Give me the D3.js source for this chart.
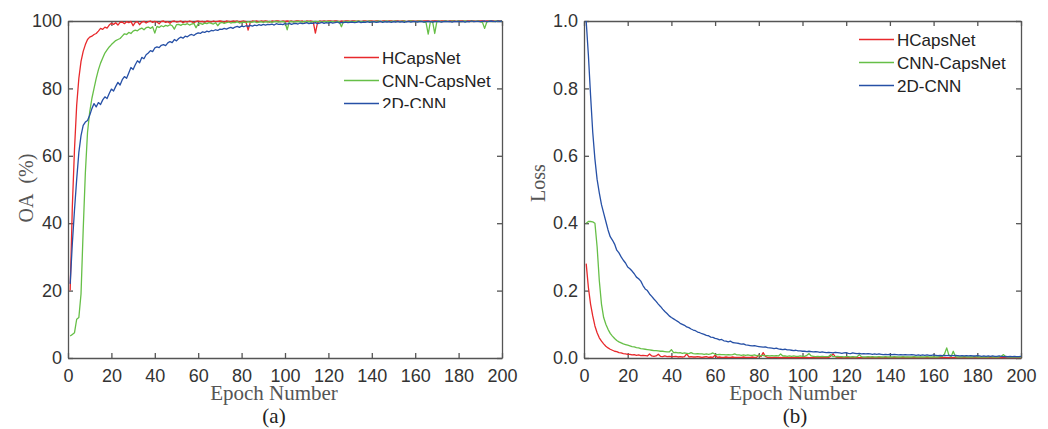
<!DOCTYPE html>
<html>
<head>
<meta charset="utf-8">
<script src="https://cdn.jsdelivr.net/npm/d3@7"></script>
<style>
body { margin: 0; background: #fff; }
svg text { font-family: "Liberation Sans", Arial, sans-serif; }
.tick text { font-size: 18px; fill: #333; }
.axis path, .axis line { stroke: #555; stroke-width: 1.3; }
.serif { font-family: "Liberation Serif", "Times New Roman", serif !important; }
</style>
</head>
<body>
<svg id="chart" width="1048" height="429"></svg>
<script>
// epochs 1..200
var epochs = d3.range(1, 201);
var xTicks = [0, 20, 40, 60, 80, 100, 120, 140, 160, 180, 200];
var oaTicks = [0, 20, 40, 60, 80, 100];
var lossTicks = [0, 0.2, 0.4, 0.6, 0.8, 1.0];
var seriesNames = ["HCapsNet", "CNN-CapsNet", "2D-CNN"];
var seriesColors = ["#e8292c", "#66bf47", "#2650a6"];

// (a) overall accuracy, %
var oaHCaps = [
  20, 45, 62, 75, 83, 88, 91, 93, 94.5, 95.2,
  95.5, 96, 96.3, 97, 97.8, 97.5, 98.2, 97.9, 98.8, 99.3,
  99, 99.5, 98.8, 99.6, 99.7, 99.2, 99.8, 99.5, 99.9, 98.6,
  99.6, 99.8, 98.9, 99.7, 99.9, 99.4, 99.8, 100, 99.6, 99.9,
  99.7, 99.2, 99.9, 100, 99.6, 99.8, 99.3, 99.9, 100, 99.7,
  99.8, 100, 99.5, 99.9, 99.7, 100, 99.8, 99.4, 99.9, 100,
  99.8, 99.9, 99.6, 100, 99.9, 99.7, 100, 99.8, 99.9, 100,
  99.9, 99.6, 100, 99.9, 99.8, 100, 99.9, 100, 99.7, 99.9,
  100, 99.8, 97.3, 99.6, 100, 99.9, 100, 99.8, 100, 99.9,
  100, 99.9, 99.7, 100, 99.9, 100, 100, 99.8, 100, 99.9,
  100, 99.9, 100, 99.8, 100, 100, 99.9, 100, 99.7, 100,
  99.9, 100, 99.8, 96.4, 99.5, 100, 99.9, 100, 99.9, 100,
  100, 99.9, 100, 100, 99.8, 100, 99.9, 100, 100, 99.9,
  100, 100, 99.9, 100, 99.8, 100, 100, 99.9, 100, 100,
  99.9, 100, 100, 99.8, 100, 100, 99.9, 100, 100, 99.9,
  100, 100, 99.9, 100, 100, 99.8, 100, 100, 100, 99.9,
  100, 100, 99.9, 100, 100, 100, 99.9, 100, 100, 100,
  99.9, 100, 100, 100, 99.9, 100, 100, 100, 99.9, 100,
  100, 100, 99.9, 100, 100, 100, 100, 99.9, 100, 100,
  100, 99.9, 100, 100, 100, 100, 99.9, 100, 100, 100
];
var oaCnnCaps = [
  6.5, 7, 7.5, 11.5, 12, 19, 38, 55, 67, 73,
  77, 80, 83, 85.5, 87.5, 89, 90.5, 91.4, 92.3, 93,
  93.6, 94.2, 94.5, 94.8, 95.5, 96.2, 96, 96.6, 96.3, 97,
  97.3, 97.1, 97.6, 97.9, 97.4, 98, 98.2, 97.8, 98.3, 96.4,
  98.4, 98.1, 98.6, 98.3, 98.7, 98.5, 98.9, 98.6, 97.6, 98.9,
  99, 98.7, 99.1, 98.9, 99.2, 98.8, 99.1, 99.3, 98, 99.2,
  99.3, 99, 99.4, 99.2, 99.5, 99.3, 99.1, 99.5, 98.6, 99.4,
  99.6, 99.3, 99.5, 99.7, 99.4, 99.6, 99.5, 99.8, 99.4, 99.6,
  99.7, 99.5, 99.8, 99.6, 99.7, 99.9, 99.5, 99.7, 99.8, 99.6,
  99.8, 99.7, 99.9, 99.6, 99.8, 99.9, 99.7, 99.8, 99.9, 99.7,
  97.4, 99.8, 99.9, 99.7, 99.8, 99.9, 99.8, 99.7, 99.9, 99.8,
  99.9, 99.7, 99.8, 99.9, 99.8, 99.9, 99.7, 99.9, 99.8, 99.9,
  99.8, 99.9, 99.7, 99.9, 99.8, 98.3, 99.9, 99.8, 99.9, 99.8,
  99.9, 99.8, 99.9, 100, 99.8, 99.9, 99.8, 99.9, 100, 99.8,
  99.9, 99.8, 100, 99.9, 99.8, 99.9, 100, 99.8, 99.9, 99.9,
  100, 99.8, 99.9, 99.9, 100, 99.8, 99.9, 100, 99.9, 99.8,
  99.9, 100, 99.9, 99.8, 99.5, 96.1, 99.8, 99.9, 96.3, 99.9,
  100, 99.8, 99.9, 100, 99.9, 99.8, 100, 99.9, 99.9, 100,
  99.8, 99.9, 100, 99.9, 99.8, 100, 99.9, 99.9, 100, 99.8,
  99.6, 97.8, 99.7, 100, 99.9, 99.8, 100, 99.9, 99.9, 100
];
var oa2dCnn = [
  22, 34, 44, 53, 61, 66, 69, 70, 70.5, 72,
  74, 75.5, 74.5, 75.8, 75.2, 76.6, 77.5, 77, 78.5, 79.8,
  79.2, 80.6, 81.8, 81, 82.6, 83.5, 83, 84.6, 86.2, 85.6,
  87, 88.2, 87.6, 89.2, 88.8, 90, 90.5, 91.2, 90.9, 92,
  92.3, 92.1, 92.8, 93, 92.7, 93.5, 93.9, 93.6, 94.5, 94.1,
  94.8, 95.2, 94.9, 95.5, 95.3, 95.8, 96, 95.7, 96.2, 96.5,
  96.3, 96.8, 96.6, 97, 96.8, 97.2, 97.1, 97.4, 97.2, 97.6,
  97.5, 97.8, 97.6, 97.9, 98.1, 97.8, 98.2, 98.4, 98.1, 98.5,
  98.3, 98.6, 98.4, 98.7, 98.5, 98.8, 98.6, 98.9, 98.7, 99,
  98.8, 99, 98.9, 99.1, 98.8, 99.2, 99, 99.1, 98.9, 99.2,
  99.1, 99.3, 99, 99.2, 99.3, 99.1, 99.4, 99.2, 99.3, 99.5,
  99.2, 99.4, 99.3, 99.5, 99.2, 99.4, 99.6, 99.3, 99.5, 99.4,
  99.6, 99.4, 99.5, 99.7, 99.4, 99.6, 99.5, 99.7, 99.5, 99.6,
  99.7, 99.5, 99.6, 99.8, 99.5, 99.7, 99.6, 99.8, 99.6, 99.7,
  99.8, 99.6, 99.7, 99.9, 99.6, 99.8, 99.7, 99.8, 99.6, 99.8,
  99.7, 99.9, 99.7, 99.8, 99.6, 99.8, 99.9, 99.7, 99.8, 99.9,
  99.7, 99.8, 99.9, 99.7, 99.8, 99.9, 99.8, 99.7, 99.9, 99.8,
  99.9, 99.7, 99.8, 99.9, 99.8, 99.9, 99.7, 99.9, 99.8, 99.9,
  99.8, 99.9, 99.7, 99.9, 99.8, 100, 99.8, 99.9, 99.9, 99.8,
  99.9, 100, 99.8, 99.9, 100, 99.9, 99.8, 100, 99.9, 100
];

// (b) training loss
var lossHCaps = [
  0.28, 0.21, 0.16, 0.125, 0.095, 0.075, 0.06, 0.05, 0.042, 0.035,
  0.03, 0.026, 0.023, 0.02, 0.019, 0.016, 0.015, 0.013, 0.012, 0.011,
  0.011, 0.009, 0.01, 0.008, 0.009, 0.007, 0.008, 0.007, 0.006, 0.012,
  0.006, 0.005, 0.006, 0.011, 0.005, 0.004, 0.006, 0.004, 0.005, 0.004,
  0.004, 0.005, 0.003, 0.004, 0.003, 0.004, 0.012, 0.003, 0.004, 0.003,
  0.003, 0.004, 0.003, 0.002, 0.003, 0.004, 0.002, 0.003, 0.002, 0.008,
  0.002, 0.003, 0.002, 0.002, 0.003, 0.002, 0.002, 0.003, 0.002, 0.002,
  0.002, 0.002, 0.003, 0.002, 0.002, 0.002, 0.003, 0.002, 0.002, 0.009,
  0.004, 0.016, 0.005, 0.002, 0.002, 0.001, 0.002, 0.002, 0.001, 0.002,
  0.001, 0.002, 0.001, 0.001, 0.002, 0.001, 0.001, 0.002, 0.001, 0.001,
  0.001, 0.002, 0.001, 0.001, 0.002, 0.001, 0.001, 0.001, 0.002, 0.001,
  0.001, 0.002, 0.006, 0.012, 0.004, 0.001, 0.001, 0.002, 0.001, 0.001,
  0.001, 0.001, 0.002, 0.001, 0.001, 0.001, 0.002, 0.001, 0.001, 0.001,
  0.002, 0.001, 0.001, 0.001, 0.001, 0.002, 0.001, 0.001, 0.001, 0.001,
  0.001, 0.001, 0.002, 0.001, 0.001, 0.001, 0.001, 0.002, 0.001, 0.001,
  0.001, 0.001, 0.001, 0.002, 0.001, 0.001, 0.001, 0.001, 0.001, 0.002,
  0.001, 0.001, 0.001, 0.001, 0.002, 0.001, 0.001, 0.001, 0.001, 0.001,
  0.001, 0.002, 0.001, 0.001, 0.001, 0.001, 0.001, 0.002, 0.001, 0.001,
  0.001, 0.001, 0.001, 0.001, 0.002, 0.001, 0.001, 0.001, 0.001, 0.001,
  0.001, 0.001, 0.002, 0.001, 0.001, 0.001, 0.001, 0.001, 0.002, 0.001
];
var lossCnnCaps = [
  0.40, 0.405, 0.405, 0.404, 0.40, 0.33, 0.23, 0.16, 0.12, 0.1,
  0.085, 0.073, 0.065, 0.058, 0.052, 0.048, 0.045, 0.042, 0.04, 0.038,
  0.036, 0.034, 0.033, 0.031, 0.03, 0.028, 0.027, 0.026, 0.025, 0.024,
  0.023, 0.022, 0.022, 0.021, 0.02, 0.02, 0.019, 0.018, 0.018, 0.025,
  0.016, 0.017, 0.015, 0.016, 0.014, 0.015, 0.014, 0.013, 0.016, 0.013,
  0.012, 0.013, 0.012, 0.012, 0.011, 0.012, 0.011, 0.012, 0.015, 0.011,
  0.01, 0.011, 0.01, 0.01, 0.009, 0.01, 0.009, 0.01, 0.012, 0.009,
  0.009, 0.008, 0.009, 0.008, 0.009, 0.008, 0.008, 0.009, 0.007, 0.008,
  0.007, 0.008, 0.007, 0.007, 0.006, 0.007, 0.006, 0.007, 0.006, 0.012,
  0.006, 0.006, 0.005, 0.006, 0.005, 0.006, 0.005, 0.005, 0.006, 0.005,
  0.005, 0.008, 0.013, 0.006, 0.005, 0.004, 0.005, 0.004, 0.005, 0.004,
  0.004, 0.005, 0.01, 0.004, 0.004, 0.005, 0.004, 0.004, 0.003, 0.004,
  0.004, 0.003, 0.004, 0.003, 0.004, 0.01, 0.004, 0.003, 0.003, 0.004,
  0.003, 0.004, 0.003, 0.003, 0.004, 0.003, 0.003, 0.004, 0.003, 0.003,
  0.003, 0.004, 0.003, 0.003, 0.003, 0.004, 0.003, 0.003, 0.003, 0.003,
  0.004, 0.003, 0.003, 0.003, 0.003, 0.003, 0.004, 0.003, 0.003, 0.003,
  0.003, 0.003, 0.004, 0.005, 0.012, 0.03, 0.008, 0.004, 0.02, 0.004,
  0.003, 0.003, 0.003, 0.004, 0.003, 0.003, 0.003, 0.003, 0.004, 0.003,
  0.003, 0.003, 0.003, 0.003, 0.003, 0.004, 0.003, 0.003, 0.003, 0.003,
  0.005, 0.01, 0.004, 0.003, 0.003, 0.003, 0.003, 0.003, 0.003, 0.003
];
var loss2dCnn = [
  1.0, 0.9, 0.78, 0.67, 0.59, 0.53, 0.49, 0.455, 0.43, 0.405,
  0.38, 0.36, 0.35, 0.338, 0.32, 0.312, 0.3, 0.29, 0.282, 0.27,
  0.265, 0.258, 0.25, 0.24, 0.235, 0.228, 0.215, 0.205, 0.2, 0.19,
  0.183, 0.175, 0.168, 0.16, 0.153, 0.145, 0.138, 0.132, 0.125, 0.12,
  0.116, 0.112, 0.108, 0.103, 0.1, 0.097, 0.092, 0.09, 0.086, 0.083,
  0.081, 0.077, 0.075, 0.072, 0.07, 0.067, 0.066, 0.062, 0.061, 0.058,
  0.057, 0.054, 0.055, 0.051, 0.05, 0.048, 0.05, 0.046, 0.045, 0.044,
  0.043, 0.041, 0.042, 0.039, 0.038, 0.037, 0.036, 0.037, 0.035, 0.034,
  0.033, 0.032, 0.033, 0.031, 0.03, 0.029, 0.028, 0.029, 0.027, 0.026,
  0.025, 0.026, 0.024, 0.024, 0.023, 0.022, 0.023, 0.021, 0.021, 0.02,
  0.02, 0.019, 0.02, 0.019, 0.018, 0.019, 0.018, 0.017, 0.018, 0.017,
  0.016, 0.017, 0.016, 0.015, 0.017, 0.016, 0.015, 0.014, 0.015, 0.016,
  0.014, 0.013, 0.015, 0.014, 0.013, 0.014, 0.012, 0.013, 0.012, 0.013,
  0.012, 0.011, 0.012, 0.011, 0.012, 0.011, 0.01, 0.011, 0.01, 0.011,
  0.01, 0.011, 0.01, 0.009, 0.01, 0.009, 0.01, 0.009, 0.009, 0.01,
  0.009, 0.008, 0.009, 0.008, 0.009, 0.008, 0.009, 0.008, 0.008, 0.009,
  0.008, 0.007, 0.008, 0.007, 0.008, 0.007, 0.008, 0.007, 0.007, 0.008,
  0.007, 0.006, 0.007, 0.006, 0.007, 0.006, 0.007, 0.006, 0.006, 0.007,
  0.006, 0.005, 0.006, 0.005, 0.006, 0.005, 0.006, 0.005, 0.005, 0.006,
  0.005, 0.004, 0.005, 0.004, 0.005, 0.004, 0.005, 0.004, 0.004, 0.005
];

var svg = d3.select("#chart");

function drawPanel(p) {
    var x = d3.scaleLinear().domain([0, 200]).range([p.left, p.right]);
    var y = d3.scaleLinear().domain(p.yDomain).range([p.bottom, p.top]);

    svg.append("clipPath").attr("id", p.id + "_clip")
        .append("rect")
        .attr("x", p.left).attr("y", p.top - 1)
        .attr("width", p.right - p.left).attr("height", p.bottom - p.top + 2);

    // frame with inward ticks on all four sides
    svg.append("g").attr("class", "axis")
        .attr("transform", "translate(0," + p.bottom + ")")
        .call(d3.axisBottom(x).tickValues(xTicks).tickSizeInner(-5).tickSizeOuter(0).tickPadding(11));
    svg.append("g").attr("class", "axis")
        .attr("transform", "translate(0," + p.top + ")")
        .call(d3.axisTop(x).tickValues(xTicks).tickSizeInner(-5).tickSizeOuter(0).tickFormat(""));
    svg.append("g").attr("class", "axis")
        .attr("transform", "translate(" + p.left + ",0)")
        .call(d3.axisLeft(y).tickValues(p.yTicks).tickSizeInner(-5).tickSizeOuter(0).tickPadding(6).tickFormat(p.fmt));
    svg.append("g").attr("class", "axis")
        .attr("transform", "translate(" + p.right + ",0)")
        .call(d3.axisRight(y).tickValues(p.yTicks).tickSizeInner(-5).tickSizeOuter(0).tickFormat(""));
    svg.selectAll(".axis .domain").attr("stroke", "#555");

    var line = d3.line()
        .x(function(d, i) { return x(epochs[i]); })
        .y(function(d) { return y(d); });

    var lines = svg.append("g").attr("clip-path", "url(#" + p.id + "_clip)");
    p.series.forEach(function(s, i) {
        lines.append("path")
            .datum(s)
            .attr("fill", "none")
            .attr("stroke", seriesColors[i])
            .attr("stroke-width", 1.3)
            .attr("stroke-linejoin", "round")
            .attr("d", line);
    });

    // legend
    var leg = svg.append("g");
    if (p.legClip) {
        svg.append("clipPath").attr("id", p.id + "_legclip")
            .append("rect").attr("x", 0).attr("y", 0).attr("width", 1048).attr("height", p.legClip);
        leg.attr("clip-path", "url(#" + p.id + "_legclip)");
    }
    seriesNames.forEach(function(name, i) {
        var ly = p.legY + i * 23;
        leg.append("line")
            .attr("x1", p.legX).attr("x2", p.legX + 35)
            .attr("y1", ly).attr("y2", ly)
            .attr("stroke", seriesColors[i]).attr("stroke-width", 1.3);
        leg.append("text")
            .attr("x", p.legX + 38).attr("y", ly).attr("dy", "0.36em")
            .attr("font-size", 17).attr("fill", "#222")
            .text(name);
    });

    // titles
    svg.append("text").attr("class", "serif")
        .attr("transform", "translate(" + p.yTitleX + "," + p.yTitleY + ") rotate(-90)")
        .attr("text-anchor", "middle").attr("font-size", 20).attr("fill", "#555")
        .style("white-space", "pre")
        .text(p.yTitle);
    svg.append("text").attr("class", "serif")
        .attr("x", p.xTitleX).attr("y", 400)
        .attr("text-anchor", "middle").attr("font-size", 21).attr("fill", "#555")
        .text("Epoch Number");
    svg.append("text").attr("class", "serif")
        .attr("x", p.capX).attr("y", 423)
        .attr("text-anchor", "middle").attr("font-size", 21).attr("fill", "#222")
        .text(p.caption);
}

drawPanel({
    id: "pa", left: 68, right: 502, top: 21, bottom: 358,
    yDomain: [0, 100], yTicks: oaTicks, fmt: d3.format("d"),
    series: [oaHCaps, oaCnnCaps, oa2dCnn],
    legX: 344, legY: 57.5, legClip: 108,
    yTitle: "OA\u00a0\u00a0(%)", yTitleX: 33, yTitleY: 188,
    xTitleX: 274, capX: 274, caption: "(a)"
});

drawPanel({
    id: "pb", left: 584, right: 1021, top: 21, bottom: 358,
    yDomain: [0, 1], yTicks: lossTicks, fmt: d3.format(".1f"),
    series: [lossHCaps, lossCnnCaps, loss2dCnn],
    legX: 859, legY: 39.5, legClip: null,
    yTitle: "Loss", yTitleX: 545, yTitleY: 183,
    xTitleX: 793, capX: 795, caption: "(b)"
});
</script>
</body>
</html>
